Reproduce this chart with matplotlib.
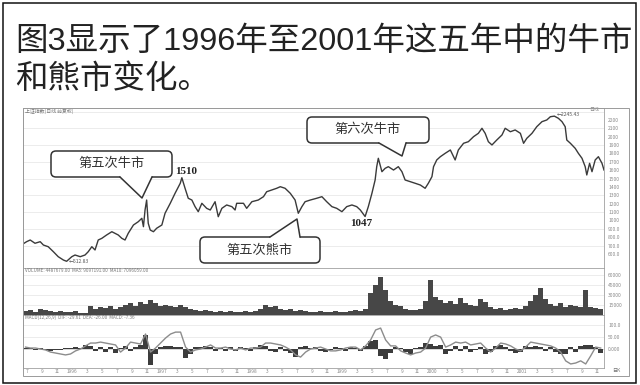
import numpy as np
import matplotlib.pyplot as plt
from matplotlib.patches import FancyBboxPatch, Polygon, Rectangle
from matplotlib.transforms import Affine2D

plt.rcParams['font.family'] = ['Noto Sans CJK SC', 'DejaVu Sans']

W, H = 640, 385

title_1 = '图3显示了1996年至2001年这五年中的牛市'
title_2 = '和熊市变化。'

# close of the Shanghai index (trading-day index, points)
price_day = [0, 9, 18, 30, 43, 51, 63, 76, 88, 101, 109, 122, 130, 143, 155, 163,
             172, 180, 188, 197, 209, 222, 230, 238, 247, 255, 263, 276, 288, 297,
             301, 305, 309, 313, 318, 326, 334, 347, 355, 368, 380, 393, 397, 405,
             413, 422, 430, 438, 447, 459, 468, 480, 488, 497, 509, 522, 530, 534, 551,
             559, 572, 588, 601, 609, 622, 634, 643, 655, 668, 680, 688, 697, 705,
             718, 734, 747, 759, 772, 784, 797, 809, 822, 834, 843, 855, 863, 872,
             880, 884, 888, 897, 905, 913, 926, 938, 947, 955, 968, 980, 993, 1005,
             1013, 1022, 1026, 1034, 1043, 1055, 1068, 1080, 1088, 1101, 1113, 1126,
             1138, 1147, 1155, 1163, 1172, 1184, 1197, 1205, 1218, 1230, 1243, 1251,
             1259, 1272, 1284, 1297, 1309, 1318, 1328, 1338, 1347, 1355, 1359, 1368,
             1380, 1388, 1397, 1405, 1409, 1416, 1422, 1430, 1438, 1447, 1452]
price_close = [720, 747, 767, 728, 747, 707, 687, 627, 568, 528, 513, 568, 588, 568,
               588, 627, 687, 648, 767, 787, 827, 866, 847, 827, 787, 767, 847, 946,
               985, 1026, 926, 1125, 1244, 966, 886, 866, 907, 946, 1086, 1205, 1324,
               1444, 1510, 1384, 1265, 1244, 1165, 1105, 1205, 1145, 1125, 1224, 1045,
               1145, 1185, 1165, 1125, 1205, 1205, 1145, 1224, 1244, 1284, 1343, 1364,
               1384, 1403, 1384, 1324, 1244, 1086, 1165, 1224, 1244, 1265, 1284, 1224,
               1165, 1145, 1105, 1165, 1185, 1165, 1125, 1047, 1165, 1324, 1483, 1642,
               1742, 1582, 1622, 1642, 1602, 1642, 1582, 1483, 1463, 1444, 1423, 1384,
               1444, 1523, 1642, 1722, 1761, 1801, 1841, 1722, 1841, 1921, 1940, 2000,
               2040, 2100, 2040, 1940, 1901, 1960, 2020, 2100, 2059, 2080, 2040, 1921,
               1980, 2040, 2119, 2179, 2199, 2238, 2245, 2219, 2179, 2119, 1960, 1921,
               1861, 1801, 1742, 1642, 1543, 1682, 1582, 1722, 1761, 1682, 1602]

# volume and MACD, one value per 12.5 trading days
bin_days = 12.5
volume = [6000, 7500, 4500, 9000, 7500, 6000, 4500, 6000, 4500, 4500,
          6000, 3000, 3000, 13500, 9000, 12000, 10500, 13500, 9000, 12000,
          15000, 18000, 13500, 19500, 16500, 22500, 18000, 13500, 15000, 13500,
          12000, 15000, 12000, 9000, 7500, 6000, 7500, 6000, 4500, 6000,
          4500, 6000, 4500, 4500, 6000, 4500, 6000, 9000, 15000, 12000,
          13500, 9000, 7500, 9000, 6000, 7500, 6000, 4500, 4500, 6000,
          4500, 4500, 6000, 4500, 4500, 6000, 7500, 6000, 9000, 33000,
          45000, 57000, 37500, 21000, 15000, 13500, 9000, 7500, 7500, 9000,
          21000, 52500, 27000, 22500, 18000, 21000, 16500, 25500, 18000, 15000,
          13500, 24000, 19500, 12000, 9000, 10500, 7500, 9000, 10500, 9000,
          13500, 21000, 30000, 40500, 24000, 16500, 13500, 18000, 12000, 15000,
          13500, 12000, 37500, 12000, 10500, 9000]
macd_hist = [4, 4, -4, 4, -4, -8, -4, -4, 4, 4,
             8, 4, 17, 13, -8, 8, -13, 8, -17, 4,
             13, -8, 8, 17, 59, -67, -21, 8, 13, 13,
             8, 8, -38, -21, 8, 8, 13, 8, -8, 4,
             -8, 8, -8, 8, 4, -8, 8, 17, 13, -8,
             -13, 8, -8, -17, -34, 8, 13, 4, 8, -8,
             -13, -4, 8, 4, -8, 8, 4, -8, 13, 34,
             38, -29, -42, -17, 8, 4, -13, -21, 4, 8,
             25, 21, 13, 17, -21, -8, 13, -8, 13, -13,
             -4, 8, -21, -13, 13, 17, 8, -8, -17, -13,
             13, 8, 13, 8, -8, 8, -13, -21, -21, 8,
             -13, 13, 17, 17, 8, -17]
macd_dif = [8, 4, 4, 0, -4, -13, -17, -21, -25, -21,
            -8, 0, 13, 25, 25, 29, 25, 21, 17, -13,
            4, 29, 25, 21, 63, -13, 4, 25, 46, 63,
            71, 71, 8, -13, -4, 0, 8, 17, 4, 4,
            8, 0, -4, 4, -4, 4, 4, 8, 25, 25,
            21, 17, 8, -4, -25, -34, -13, 0, 4, 8,
            0, -8, -8, -4, 4, 8, 8, -4, 13, 38,
            80, 88, 38, 13, 13, -8, -17, -25, -17, -13,
            4, 50, 59, 50, 8, 17, 29, 25, 29, 17,
            21, 25, 4, -13, 4, 25, 21, 13, 0, -8,
            8, 29, 25, 21, 17, 13, 4, -13, -50, -63,
            -59, -50, -63, -29, 8, 4]

price_ticks = [2200, 2100, 2000, 1900, 1800, 1700, 1600, 1500, 1400, 1300,
               1200, 1100, 1000, 900, 800, 700, 600]
price_tick_labels = ['2200', '2100', '2000', '1900', '1800', '1700', '1600', '1500',
                     '1400', '1300', '1200', '1100', '1000', '900.0', '800.0',
                     '700.0', '600.0']
vol_ticks = [15000, 30000, 45000, 60000]
vol_tick_labels = ['15000', '30000', '45000', '60000']
macd_ticks = [0, 50, 100]
macd_tick_labels = ['0.000', '50.00', '100.0']
date_labels = ['7', '9', '11', '1996', '3', '5', '7', '9', '11', '1997', '3', '5', '7',
               '9', '11', '1998', '3', '5', '7', '9', '11', '1999', '3', '5', '7', '9',
               '11', '2000', '3', '5', '7', '9', '11', '2001', '3', '5', '7', '9', '11']

fig = plt.figure(figsize=(6.4, 3.85), dpi=100)
px = Affine2D().scale(1 / W, -1 / H).translate(0, 1) + fig.transFigure


def panel(top, bottom):
    ax = fig.add_axes([23 / W, 1 - bottom / H, 581 / W, (bottom - top) / H])
    ax.set_xlim(0, 1452)
    for s in ax.spines.values():
        s.set_color('#a0a0a0')
        s.set_linewidth(0.6)
    ax.yaxis.tick_right()
    ax.tick_params(axis='y', length=0, pad=3, labelsize=3.6, labelcolor='#8a8a8a')
    ax.tick_params(axis='x', length=0)
    ax.set_xticks([])
    return ax


ax_p = panel(108, 268)
ax_v = panel(268, 315)
ax_m = panel(315, 368)

# price
ax_p.set_ylim(433, 2342)
for lv in range(700, 2400, 200):
    ax_p.axhline(lv, color='#e4e4e4', lw=0.5, zorder=0)
ax_p.plot(price_day, price_close, color='#3a3a3a', lw=1.0)
ax_p.set_yticks(price_ticks)
ax_p.set_yticklabels(price_tick_labels)
ax_p.text(4, 2300, '上证指数(日线 前复权)', fontsize=3.5, color='#777', va='center')
ax_p.text(1440, 2320, '日线', fontsize=3.5, color='#888', va='center', ha='right')
i_low = int(np.argmin(price_close))
i_high = int(np.argmax(price_close))
ax_p.text(price_day[i_low] + 5, price_close[i_low], '←512.83', fontsize=3.6,
          color='#555', va='center')
ax_p.text(price_day[i_high] + 6, price_close[i_high] + 15, '←2245.43', fontsize=3.6,
          color='#555', va='center')

# volume
x_bins = np.arange(len(volume)) * bin_days + bin_days / 2
ax_v.set_ylim(0, 70500)
for lv in vol_ticks:
    ax_v.axhline(lv, color='#e4e4e4', lw=0.5, zorder=0)
ax_v.bar(x_bins, volume, width=bin_days, color='#474747', lw=0)
ax_v.set_yticks(vol_ticks)
ax_v.set_yticklabels(vol_tick_labels)
ax_v.text(4, 67000, 'VOLUME: 4487679.00  MA5: 9097191.00  MA10: 7096059.00',
          fontsize=3.3, color='#777', va='center')

# MACD
ax_m.set_ylim(-80, 143)
for lv in macd_ticks:
    ax_m.axhline(lv, color='#c8c8c8' if lv == 0 else '#e4e4e4', lw=0.5, zorder=0)
ax_m.bar(x_bins, macd_hist, width=bin_days * 0.9, color='#3c3c3c', lw=0)
ax_m.plot(x_bins, macd_dif, color='#8c8c8c', lw=1.0)
ax_m.set_yticks(macd_ticks)
ax_m.set_yticklabels(macd_tick_labels)
ax_m.text(4, 133, 'MACD(12,26,9)  DIF: -29.61  DEA: -26.00  MACD: -7.36',
          fontsize=3.3, color='#777', va='center')
ax_m.set_xticks(np.arange(len(date_labels)) * 37.5 + 10)
ax_m.set_xticklabels(date_labels)
ax_m.tick_params(axis='x', labelsize=3.4, labelcolor='#888', pad=1)

# frames
fig.patches.append(Rectangle((23, 108), 606, 268, transform=px, fill=False,
                             ec='#9a9a9a', lw=0.7))
fig.patches.append(Rectangle((2.5, 2.5), 633.5, 380, transform=px, fill=False,
                             ec='#111111', lw=1.1))
fig.text(616 / W, 1 - 371 / H, '日K', fontsize=3.6, color='#777', ha='center',
         va='center')

# title, Arial-like digits with CJK fallback
title_font = ['Liberation Sans', 'Noto Sans CJK SC']
fig.text(15 / W, 1 - 42 / H, title_1, fontsize=23.4, color='#222', va='center',
         family=title_font)
fig.text(15 / W, 1 - 80 / H, title_2, fontsize=23.4, color='#222', va='center',
         family=title_font)


def callout(x0, y0, x1, y1, base_l, base_r, tip, label):
    box = FancyBboxPatch((x0, y0), x1 - x0, y1 - y0, transform=px,
                         boxstyle='round,pad=0,rounding_size=5',
                         fc='white', ec='#333', lw=1.1, zorder=5)
    fig.patches.append(box)
    into = -2 if tip[1] > y1 else 2
    by = base_l[1]
    cover = Polygon([(base_l[0] + 0.6, by + into), base_l, tip, base_r,
                     (base_r[0] - 0.6, by + into)], closed=True, transform=px,
                    fc='white', ec='none', zorder=6)
    fig.patches.append(cover)
    fig.lines.append(plt.Line2D([base_l[0], tip[0], base_r[0]],
                                [base_l[1], tip[1], base_r[1]], transform=px,
                                color='#333', lw=1.1, zorder=7))
    fig.text((x0 + x1) / 2 / W, 1 - (y0 + y1) / 2 / H, label, fontsize=9.5,
             color='#333', ha='center', va='center', zorder=8)


callout(51, 151, 172, 177, (120, 177), (152, 177), (142, 198), '第五次牛市')
callout(200, 237, 320, 263, (270, 237), (300, 237), (297, 219), '第五次熊市')
callout(307, 117, 429, 143, (379, 143), (406, 143), (402, 156), '第六次牛市')

fig.text(186 / W, 1 - 172 / H, '1510', fontsize=8, weight='bold', color='#222',
         family=['Liberation Serif'], ha='center', va='center')
fig.text(361 / W, 1 - 224 / H, '1047', fontsize=8, weight='bold', color='#222',
         family=['Liberation Serif'], ha='center', va='center')

fig.savefig('out.png', dpi=100)
